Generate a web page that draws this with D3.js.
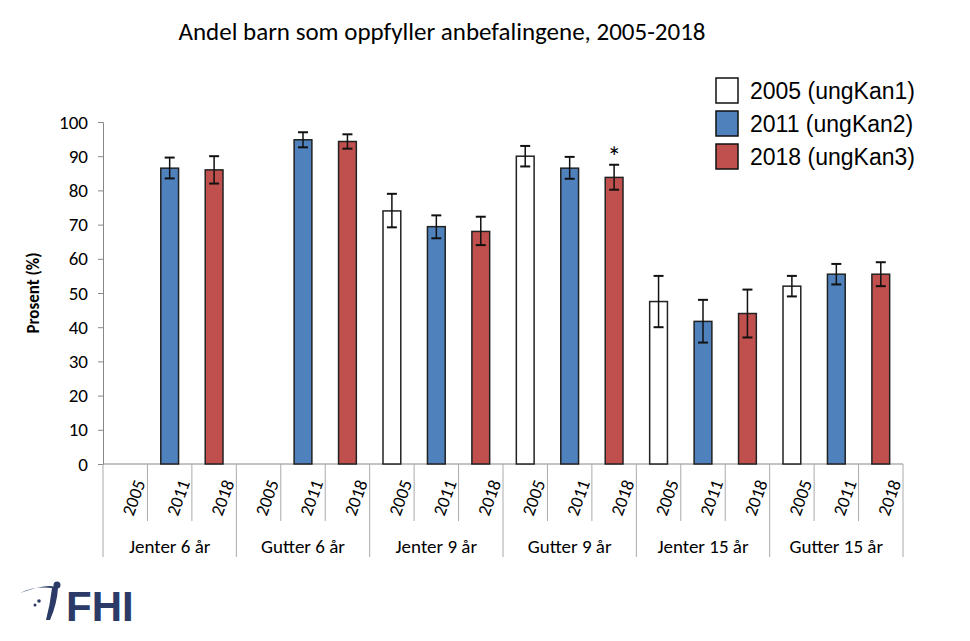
<!DOCTYPE html>
<html><head><meta charset="utf-8">
<script src="https://cdnjs.cloudflare.com/ajax/libs/d3/7.8.5/d3.min.js"></script>
<style>body{margin:0;background:#fff}text{font-family:Calibri,Carlito,"Liberation Sans",sans-serif}</style>
</head><body><div id="frame"></div>
<script>
var groups = ["Jenter 6 år","Gutter 6 år","Jenter 9 år","Gutter 9 år","Jenter 15 år","Gutter 15 år"];
var years = ["2005","2011","2018"];
var legendLabels = ["2005 (ungKan1)","2011 (ungKan2)","2018 (ungKan3)"];
var colours = ["#ffffff","#4f81bd","#c0504d"];
// value, low, high per group per year (null = no data)
var values = [[null,86.5,86],[null,94.8,94.3],[74,69.4,68],[90,86.5,83.8],[47.5,41.7,44],[52,55.5,55.5]];
var lows   = [[null,83.5,82],[null,92.6,92.2],[69.2,66,64],[87,83.4,80.2],[40,35.5,37],[49,52.5,52]];
var highs  = [[null,89.6,90],[null,97,96.4],[79,72.7,72.3],[93,89.8,87.5],[55,48,51],[55,58.5,59]];
var starred = [[3,2]];
var yTicks = d3.range(0,101,10);

var svg = d3.select('#frame').append('svg').attr('width',970).attr('height',641);
var y = d3.scaleLinear().domain([0,100]).range([464,122]);
var xg = d3.scaleBand().domain(groups).range([103,903]);
var xy = d3.scaleBand().domain(years).range([0,xg.bandwidth()]).paddingInner(0.6).paddingOuter(0.3);
var xs = d3.scaleBand().domain(years).range([0,xg.bandwidth()]);

svg.append('text').attr('x',442).attr('y',40).attr('text-anchor','middle').attr('font-size',25).text('Andel barn som oppfyller anbefalingene, 2005-2018');

var yAxis = svg.append('g').attr('transform','translate(103,0)')
  .call(d3.axisLeft(y).tickValues(yTicks).tickSize(5).tickPadding(10));
yAxis.selectAll('text').attr('font-size',19).attr('fill','#000');
yAxis.selectAll('line,path').attr('stroke','#888');
svg.append('text').attr('transform','translate(39,293) rotate(-90)').attr('text-anchor','middle')
  .attr('font-size',17).attr('font-weight','bold').text('Prosent (%)');

svg.append('line').attr('x1',103).attr('x2',903).attr('y1',y(0)).attr('y2',y(0)).attr('stroke','#888');

groups.forEach(function(g,gi){
  var gx = xg(g);
  var gs = svg.append('g').attr('transform','translate('+gx+',0)');
  years.forEach(function(yr,yi){
    var sx = xs(yr);
    if (yi>0) gs.append('line').attr('x1',sx).attr('x2',sx).attr('y1',464).attr('y2',521).attr('stroke','#aaa');
    gs.append('text').attr('transform','translate('+(sx+xs.bandwidth()/2+8)+',517) rotate(-70)')
      .attr('font-size',18).text(yr);
    var v = values[gi][yi];
    if (v===null) return;
    var bx = xy(yr), bw = xy.bandwidth(), cx = bx+bw/2;
    gs.append('rect').attr('x',bx).attr('y',y(v)).attr('width',bw).attr('height',y(0)-y(v))
      .attr('fill',colours[yi]).attr('stroke','#222').attr('stroke-width',1.5);
    gs.append('line').attr('x1',cx).attr('x2',cx).attr('y1',y(lows[gi][yi])).attr('y2',y(highs[gi][yi])).attr('stroke','#111').attr('stroke-width',1.5);
    [lows[gi][yi],highs[gi][yi]].forEach(function(e){
      gs.append('line').attr('x1',cx-5).attr('x2',cx+5).attr('y1',y(e)).attr('y2',y(e)).attr('stroke','#111').attr('stroke-width',2);
    });
  });
  svg.append('line').attr('x1',gx).attr('x2',gx).attr('y1',464).attr('y2',557).attr('stroke','#aaa');
  svg.append('text').attr('x',gx+xg.bandwidth()/2).attr('y',553).attr('text-anchor','middle').attr('font-size',19).text(g);
});
svg.append('line').attr('x1',903).attr('x2',903).attr('y1',464).attr('y2',557).attr('stroke','#aaa');

starred.forEach(function(s){
  var cx = xg(groups[s[0]])+xy(years[s[1]])+xy.bandwidth()/2;
  svg.append('text').attr('x',cx).attr('y',y(highs[s[0]][s[1]])+2).attr('text-anchor','middle').attr('font-size',28).text('*');
});

legendLabels.forEach(function(l,i){
  svg.append('rect').attr('x',716).attr('y',78+i*33).attr('width',22).attr('height',25)
    .attr('fill',colours[i]).attr('stroke','#111').attr('stroke-width',1.5);
  svg.append('text').attr('x',750).attr('y',99+i*33).attr('font-size',23)
    .style('font-family','"Liberation Sans",Arial,sans-serif').text(l);
});

// FHI logo
var logo = svg.append('g').attr('fill','#2b3a67');
logo.append('path').attr('d','M20 593 Q35 586 52 588 Q50 605 46 620 L50 620 Q57 604 58 588 Q50 582 20 593 Z');
logo.append('circle').attr('cx',57).attr('cy',585).attr('r',3.5);
logo.append('circle').attr('cx',39).attr('cy',601).attr('r',1.8);
logo.append('circle').attr('cx',35).attr('cy',605).attr('r',1.5);
logo.append('text').attr('x',66).attr('y',621).attr('font-size',42).attr('font-weight','bold')
  .style('font-family','"Liberation Sans",Arial,sans-serif').text('FHI');
</script></body></html>
